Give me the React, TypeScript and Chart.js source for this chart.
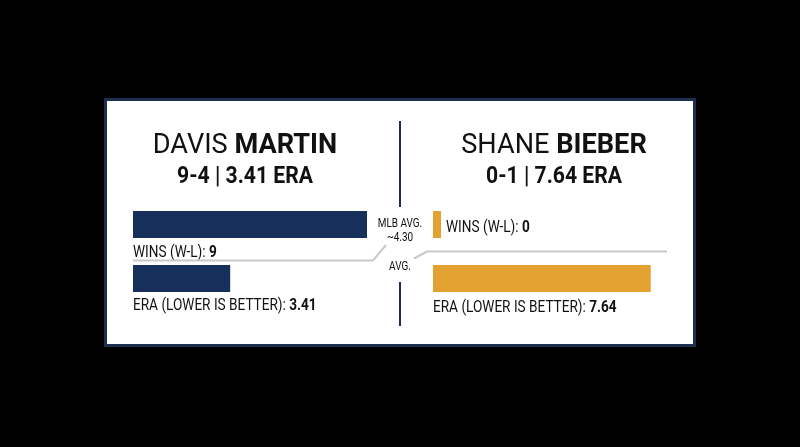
import React, { useEffect, useRef } from 'react';
import { Chart, registerables } from 'chart.js';

Chart.register(...registerables);

// ---- data ----
const categories = ['WINS (W-L)', 'ERA (LOWER IS BETTER)'];
const firstNames = ['DAVIS', 'SHANE'];
const lastNames = ['MARTIN', 'BIEBER'];
const records = ['9-4', '0-1'];
const wins = [9, 0];
const eras = [3.41, 7.64];
const mlbAvgLines = ['MLB AVG.', '~4.30'];
const avgText = 'AVG.';

// ---- style / layout ----
const NAVY = '#16305b';
const GOLD = '#e3a131';
const INK = '#111111';
const GREY = '#c9c9c9';
const SANS = 'Roboto, "Liberation Sans", sans-serif';

const PLOT_L = 133;
const PLOT_R = 667;
const PLOT_W = PLOT_R - PLOT_L;
const PANEL_OFFSET = 300; // horizontal offset of the right player's panel
const WINS_PX = 26; // pixels per win
const ERA_PX = 28.5; // pixels per ERA point

type Part = { text: string; font: string };

// draws text runs, horizontally condensed by factor s
function drawParts(ctx: CanvasRenderingContext2D, parts: Part[], x: number, y: number, align: 'left' | 'center', s = 1) {
  let total = 0;
  const widths = parts.map((p) => {
    ctx.font = p.font;
    const w = ctx.measureText(p.text).width;
    total += w;
    return w;
  });
  ctx.save();
  ctx.translate(x, y);
  ctx.scale(s, 1);
  let cx = align === 'center' ? -total / 2 : 0;
  ctx.textAlign = 'left';
  ctx.textBaseline = 'alphabetic';
  parts.forEach((p, i) => {
    ctx.font = p.font;
    ctx.fillText(p.text, cx, 0);
    cx += widths[i];
  });
  ctx.restore();
}

const cardPlugin = {
  id: 'card',
  beforeDraw(chart: any) {
    const ctx: CanvasRenderingContext2D = chart.ctx;
    ctx.save();
    ctx.fillStyle = '#000';
    ctx.fillRect(0, 0, chart.width, chart.height);
    ctx.fillStyle = '#1d2f4f';
    ctx.fillRect(104, 98, 592, 249);
    ctx.fillStyle = '#ffffff';
    ctx.fillRect(107, 101, 586, 243);
    ctx.restore();
  },
  afterDraw(chart: any) {
    const ctx: CanvasRenderingContext2D = chart.ctx;
    ctx.save();
    ctx.fillStyle = INK;

    const centers = [245, 554];
    for (let i = 0; i < 2; i++) {
      drawParts(ctx, [
        { text: firstNames[i] + ' ', font: `400 28px ${SANS}` },
        { text: lastNames[i], font: `700 28px ${SANS}` },
      ], centers[i], 153, 'center', 0.97);
      drawParts(ctx, [
        { text: `${records[i]} | ${eras[i].toFixed(2)} ERA`, font: `700 23.5px ${SANS}` },
      ], centers[i], 183, 'center', 0.9);
    }

    const lab = `400 16.5px ${SANS}`;
    const labB = `700 16.5px ${SANS}`;
    const S = 0.825;
    // left player labels
    drawParts(ctx, [{ text: `${categories[0]}: `, font: lab }, { text: String(wins[0]), font: labB }], 133, 257, 'left', S);
    drawParts(ctx, [{ text: `${categories[1]}: `, font: lab }, { text: eras[0].toFixed(2), font: labB }], 133, 310, 'left', S);
    // right player labels
    drawParts(ctx, [{ text: `${categories[0]}: `, font: lab }, { text: String(wins[1]), font: labB }], 446, 232, 'left', S);
    drawParts(ctx, [{ text: `${categories[1]}: `, font: lab }, { text: eras[1].toFixed(2), font: labB }], 433, 312, 'left', S);

    // centre annotation
    const small = `400 12px ${SANS}`;
    drawParts(ctx, [{ text: mlbAvgLines[0], font: small }], 400, 227, 'center', 0.83);
    drawParts(ctx, [{ text: mlbAvgLines[1], font: small }], 400, 241, 'center', 0.83);
    drawParts(ctx, [{ text: avgText, font: small }], 400, 270, 'center', 0.83);

    // divider
    ctx.strokeStyle = '#1d2f4f';
    ctx.lineWidth = 2;
    ctx.beginPath();
    ctx.moveTo(400, 121);
    ctx.lineTo(400, 207);
    ctx.moveTo(400, 282);
    ctx.lineTo(400, 326);
    ctx.stroke();

    // grey leader lines
    ctx.strokeStyle = GREY;
    ctx.lineWidth = 2;
    ctx.beginPath();
    ctx.moveTo(133, 260.5);
    ctx.lineTo(373, 260.5);
    ctx.lineTo(386, 245);
    ctx.moveTo(667, 251.5);
    ctx.lineTo(427, 251.5);
    ctx.lineTo(414, 258.5);
    ctx.stroke();

    ctx.restore();
  },
};

export default function App() {
  const ref = useRef<HTMLCanvasElement>(null);
  useEffect(() => {
    document.body.style.margin = '0';
    document.body.style.background = '#000';
    const chart = new Chart(ref.current!, {
      type: 'bar',
      data: {
        labels: categories,
        datasets: [
          { label: 'Martin wins', data: [wins[0], null], xAxisID: 'xWL', yAxisID: 'y', backgroundColor: NAVY },
          { label: 'Martin ERA', data: [null, eras[0]], xAxisID: 'xEL', yAxisID: 'y', backgroundColor: NAVY },
          { label: 'Bieber wins', data: [wins[1], null], xAxisID: 'xWR', yAxisID: 'y', backgroundColor: GOLD, minBarLength: 8, base: -1e-6 } as any,
          { label: 'Bieber ERA', data: [null, eras[1]], xAxisID: 'xER', yAxisID: 'y', backgroundColor: GOLD },
        ],
      },
      options: {
        indexAxis: 'y',
        responsive: false,
        animation: false,
        devicePixelRatio: 1,
        grouped: false,
        barPercentage: 0.5,
        categoryPercentage: 1,
        borderWidth: 0,
        layout: { padding: { left: PLOT_L, right: 800 - PLOT_R, top: 197.5, bottom: 447 - 305.5 } },
        plugins: { legend: { display: false }, tooltip: { enabled: false }, title: { display: false } },
        scales: {
          y: { type: 'category', display: false, offset: true, grid: { display: false } },
          xWL: { type: 'linear', axis: 'x', position: 'bottom', display: false, min: 0, max: PLOT_W / WINS_PX },
          xEL: { type: 'linear', axis: 'x', position: 'bottom', display: false, min: 0, max: PLOT_W / ERA_PX },
          xWR: { type: 'linear', axis: 'x', position: 'bottom', display: false, min: -PANEL_OFFSET / WINS_PX, max: (PLOT_W - PANEL_OFFSET) / WINS_PX },
          xER: { type: 'linear', axis: 'x', position: 'bottom', display: false, min: -PANEL_OFFSET / ERA_PX, max: (PLOT_W - PANEL_OFFSET) / ERA_PX },
        },
      } as any,
      plugins: [cardPlugin],
    });
    return () => chart.destroy();
  }, []);
  return (
    <div style={{ position: 'fixed', left: 0, top: 0, width: 800, height: 447, background: '#000' }}>
      <canvas ref={ref} width={800} height={447} style={{ display: 'block', width: 800, height: 447 }} />
    </div>
  );
}
